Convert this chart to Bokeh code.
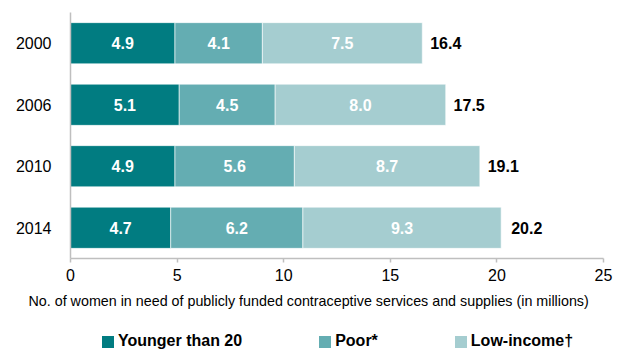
from bokeh.plotting import figure
from bokeh.models import (ColumnDataSource, Range1d, FactorRange, Legend, LegendItem,
                          FixedTicker, Title)
from bokeh.layouts import column
from bokeh.core.properties import value
from bokeh.embed import file_html
from bokeh.resources import INLINE

years = ["2000", "2006", "2010", "2014"]
younger = [4.9, 5.1, 4.9, 4.7]
poor = [4.1, 4.5, 5.6, 6.2]
low_income = [7.5, 8.0, 8.7, 9.3]
totals = [16.4, 17.5, 19.1, 20.2]
series_names = ["Younger than 20", "Poor*", "Low-income\u2020"]
colors = ["#017C81", "#64ADB2", "#A5CDD0"]
x_ticks = [0, 5, 10, 15, 20, 25]
x_label = "No. of women in need of publicly funded contraceptive services and supplies (in millions)"

FONT = "Liberation Sans"

p = figure(frame_width=533, frame_height=246, output_backend="svg", toolbar_location=None,
           y_range=FactorRange(*reversed(years), range_padding=0),
           x_range=Range1d(0, 25),
           min_border_left=70, min_border_right=27, min_border_top=12, min_border_bottom=32)
p.outline_line_color = None
p.xgrid.visible = False
p.ygrid.visible = False

series = [younger, poor, low_income]
left = [0.0] * len(years)
for vals, name, col in zip(series, series_names, colors):
    right = [l + v for l, v in zip(left, vals)]
    src = ColumnDataSource(dict(y=years, left=left, right=right,
                                mid=[(l + r) / 2 for l, r in zip(left, right)],
                                lab=["%.1f" % v for v in vals]))
    p.hbar(y="y", left="left", right="right", height=0.67, source=src,
           fill_color=col, line_color="white", line_width=0.6)
    p.text(x="mid", y="y", text="lab", source=src, text_color="white",
           text_font=value(FONT), text_font_style="bold", text_font_size="16px",
           text_align="center", text_baseline="middle")
    left = right

tsrc = ColumnDataSource(dict(y=years, x=totals, lab=["%.1f" % t for t in totals]))
p.text(x="x", y="y", text="lab", source=tsrc, x_offset=10, text_color="black",
       text_font=value(FONT), text_font_style="bold", text_font_size="16px",
       text_align="left", text_baseline="middle")

xa = p.xaxis[0]
xa.ticker = FixedTicker(ticks=x_ticks)
xa.axis_line_color = "#BFBFBF"
xa.axis_line_width = 1.5
xa.major_tick_line_color = "#BFBFBF"
xa.major_tick_line_width = 1.5
xa.major_tick_out = 4
xa.major_tick_in = 0
xa.minor_tick_line_color = None
xa.major_label_text_font = FONT
xa.major_label_text_font_size = "16px"
xa.major_label_text_color = "black"
xa.major_label_standoff = 6

ya = p.yaxis[0]
ya.axis_line_color = "#BFBFBF"
ya.axis_line_width = 1.5
ya.major_tick_line_color = None
ya.minor_tick_line_color = None
ya.major_label_text_font = FONT
ya.major_label_text_font_size = "16px"
ya.major_label_text_color = "black"
ya.major_label_standoff = 13

# bottom strip: axis title and legend
q = figure(frame_width=630, frame_height=48, output_backend="svg", toolbar_location=None,
           x_range=Range1d(0, 630), y_range=Range1d(0, 48),
           min_border_left=0, min_border_right=0, min_border_top=0, min_border_bottom=0)
q.outline_line_color = None
q.axis.visible = False
q.xgrid.visible = False
q.ygrid.visible = False

q.add_layout(Title(text=x_label, align="left", offset=-42, standoff=0,
                   text_font=FONT, text_font_size="14.3px", text_font_style="normal",
                   text_color="black"), "above")

items = []
for name, col in zip(series_names, colors):
    r = q.hbar(y=[-100], left=[0], right=[1], height=1, fill_color=col, line_color=None)
    items.append(LegendItem(label=name, renderers=[r]))

legend = Legend(items=items, orientation="horizontal", location=(100, 6),
                label_text_font=FONT, label_text_font_size="16px",
                label_text_font_style="bold", label_text_color="black",
                glyph_width=15, glyph_height=15, label_standoff=3, spacing=75,
                border_line_color=None, background_fill_alpha=0,
                padding=0, margin=0, label_height=15)
q.add_layout(legend, "center")

layout = column(p, q, spacing=0)
open("out.html", "w").write(file_html(layout, INLINE))
